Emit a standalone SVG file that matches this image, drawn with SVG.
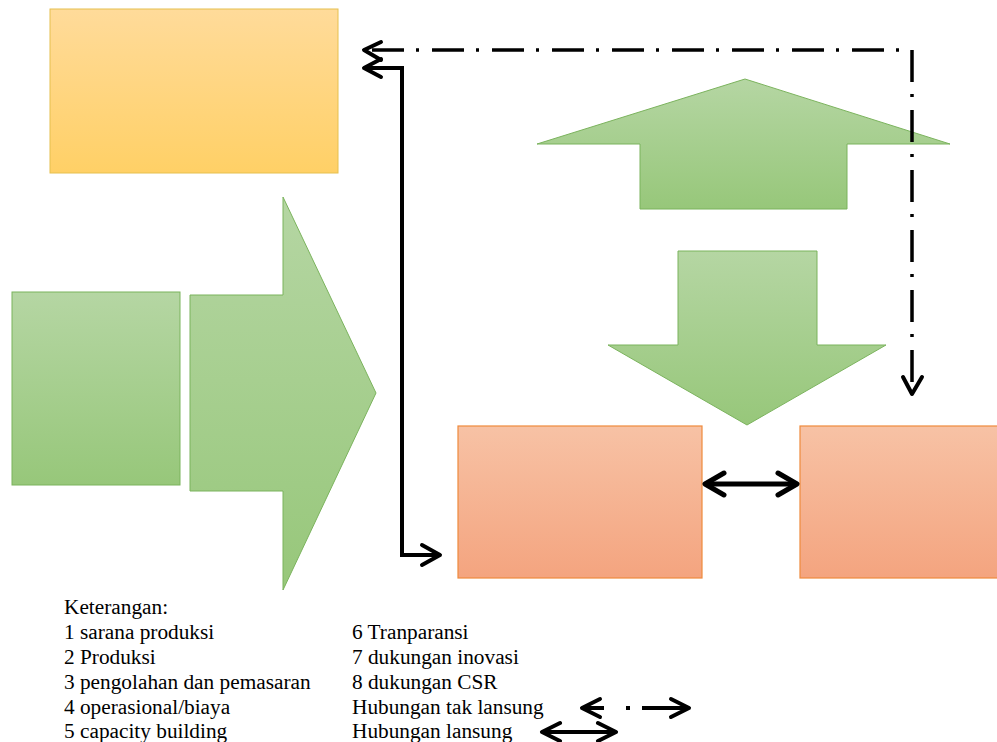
<svg xmlns="http://www.w3.org/2000/svg" width="997" height="742" viewBox="0 0 997 742">
<defs>
<linearGradient id="gO" x1="0" y1="0" x2="0" y2="1"><stop offset="0" stop-color="#ffdb9a"/><stop offset="1" stop-color="#ffd066"/></linearGradient>
<linearGradient id="gG" x1="0" y1="0" x2="0" y2="1"><stop offset="0" stop-color="#b5d6a3"/><stop offset="1" stop-color="#97c77a"/></linearGradient>
<linearGradient id="gR" x1="0" y1="0" x2="0" y2="1"><stop offset="0" stop-color="#f7c2a5"/><stop offset="1" stop-color="#f4a47f"/></linearGradient>
<style>
.o{fill:url(#gO);stroke:#e6c04f;stroke-width:1}
.g{fill:url(#gG);stroke:#7bb35d;stroke-width:1}
.r{fill:url(#gR);stroke:#ef8a3c;stroke-width:1.2}
.c{fill:none;stroke:#000;stroke-width:4;stroke-linejoin:miter}
.h{fill:none;stroke:#000;stroke-width:4;stroke-linecap:round;stroke-linejoin:round}
.dd{fill:none;stroke:#000;stroke-width:3.5;stroke-dasharray:32 12 3 13}
text{font-family:"Liberation Serif","Times New Roman",serif;font-size:21.3px;fill:#000}
</style>
</defs>
<g id="node-orange"><rect class="o" x="50" y="9" width="288" height="164"/></g>
<g id="node-green-left"><rect class="g" x="12" y="292" width="168" height="193"/></g>
<g id="node-arrow-right"><path class="g" d="M190,295 H283 V197 L376,393 L283,590 V491 H190 Z"/></g>
<g id="node-arrow-up"><path class="g" d="M745,79 L950,144 H847 V209 H640 V144 H537 Z"/></g>
<g id="node-arrow-down"><path class="g" d="M678,251 H817 V345 H886 L747,425 L608,345 H678 Z"/></g>
<g id="node-red-1"><rect class="r" x="458" y="426" width="244" height="152"/></g>
<g id="node-red-2"><rect class="r" x="800" y="426" width="200" height="152"/></g>
<g id="connectors">
<path class="dd" d="M372,50 H912 V388"/>
<path class="h" d="M381,42 L364,50 L381,60"/>
<path class="h" d="M903,377 L912,394 L922,377"/>
<path class="c" d="M366,68 H402 V555 H438"/>
<path class="h" d="M381,59 L364,68 L381,77"/>
<path class="h" d="M422,545 L440,555 L422,565"/>
<path class="c" d="M708,484 H794" style="stroke-width:5"/>
<path class="h" d="M724,473 L705,484 L724,495" style="stroke-width:5"/>
<path class="h" d="M778,473 L797,484 L778,495" style="stroke-width:5"/>
</g>
<g id="legend">
<text x="64" y="614">Keterangan:</text>
<text x="64" y="639">1 sarana produksi</text>
<text x="64" y="664">2 Produksi</text>
<text x="64" y="689">3 pengolahan dan pemasaran</text>
<text x="64" y="714">4 operasional/biaya</text>
<text x="64" y="738">5 capacity building</text>
<text x="352" y="639">6 Tranparansi</text>
<text x="352" y="664">7 dukungan inovasi</text>
<text x="352" y="689">8 dukungan CSR</text>
<text x="352" y="714">Hubungan tak lansung</text>
<text x="352" y="738">Hubungan lansung</text>
<path fill="none" stroke="#000" stroke-width="4" d="M584,708 H604 M626,708 H630 M642,708 H686"/>
<path class="h" d="M600,699 L582,708 L600,717"/>
<path class="h" d="M671,699 L689,708 L671,717"/>
<path class="c" d="M544,732 H614"/>
<path class="h" d="M560,723 L542,732 L560,741"/>
<path class="h" d="M598,723 L616,732 L598,741"/>
</g>
</svg>
